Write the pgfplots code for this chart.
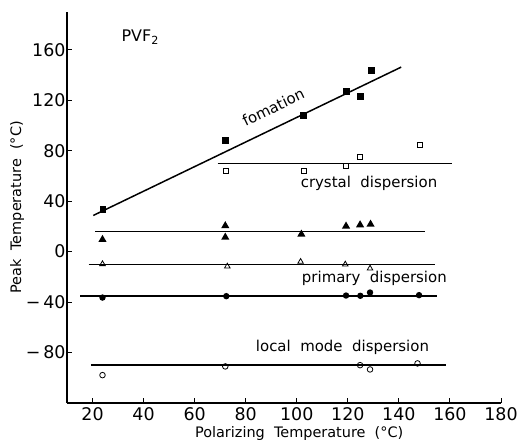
\documentclass[border=0pt]{standalone}
\usepackage{pgfplots}
\pgfplotsset{compat=1.18}
\usepackage{fontspec}
\setmainfont{DejaVu Sans}

\begin{document}
\begin{tikzpicture}
\path[use as bounding box] (-67bp,-42bp) rectangle (451bp,403bp);
\begin{axis}[
  at={(0,0)}, anchor=south west,
  scale only axis, width=434bp, height=391bp,
  xmin=10, xmax=180, ymin=-120, ymax=190,
  axis lines=left, axis line style={-, line width=1.3pt},
  xtick={20,40,...,180}, ytick={-80,-40,...,160},
  yticklabels={−\,80,−\,40,0,40,80,120,160},
  tick align=inside, major tick length=5bp,
  tick style={line width=1pt, black},
  /pgf/number format/assume math mode=true,
  tick label style={font=\fontsize{17.5}{17.5}\selectfont},
  yticklabel style={xshift=2bp},
  xticklabel style={yshift=-1bp},
  ylabel={Peak~~Temperature~~(°C)},
  xlabel={Polarizing~~Temperature~~(°C)},
  label style={font=\fontsize{14.5}{15}\selectfont},
  ylabel style={at={(axis description cs:-0.115,0.5)}, anchor=center},
  xlabel style={at={(axis description cs:0.535,0)}, anchor=center, yshift=-31bp},
  clip=false,
  every axis plot/.append style={line width=1.5pt},
]
% fitted lines for each process
\addplot[black, no markers] coordinates {(20.3,28.7) (140.9,146.3)};
\addplot[black, no markers] coordinates {(69,70) (161,70)};
\addplot[black, no markers] coordinates {(21,16) (150.4,16)};
\addplot[black, no markers] coordinates {(18.5,-10) (154,-10)};
\addplot[black, no markers] coordinates {(15.2,-35.3) (155.1,-35.3)};
\addplot[black, no markers] coordinates {(19.4,-90) (158.3,-90)};

% formation
\addplot[only marks, mark=square*, mark size=2.7bp, fill=black] coordinates {
 (24.1,33.2) (72.2,87.8) (102.8,107.7) (119.4,127.1) (124.9,122.9) (129.4,143.9)};
% crystal dispersion
\addplot[only marks, mark=square, mark size=2.5bp, line width=0.8pt, mark options={fill=white}] coordinates {
 (72.2,63.9) (102.8,63.9) (119.3,68.2) (124.9,75.1) (148.2,84.6)};
% filled triangles
\addplot[only marks, mark=triangle*, mark size=3.2bp, fill=black] coordinates {
 (23.9,9.6) (72,20.5) (72,11.4) (101.8,13.8) (119.3,20.2) (124.8,21.2) (128.9,21.7)};
% primary dispersion
\addplot[only marks, mark=triangle, mark size=3.2bp, line width=0.8pt, mark options={fill=white}] coordinates {
 (23.9,-9.8) (72.8,-11.7) (101.5,-8.0) (119,-10.1) (128.7,-13.3)};
% filled circles
\addplot[only marks, mark=*, mark size=2.4bp, fill=black] coordinates {
 (23.9,-36.4) (72.4,-35.3) (119.3,-34.8) (124.9,-35) (128.7,-32.4) (147.9,-34.5)};
% local mode dispersion
\addplot[only marks, mark=o, mark size=2.8bp, line width=0.8pt, mark options={fill=white}] coordinates {
 (23.9,-97.9) (72,-91) (124.8,-90) (128.7,-93.4) (147.3,-88.6)};

\node[font=\fontsize{16}{16}\selectfont] at (axis cs:38.7,170) {PVF\textsubscript{2}};
\node[font=\fontsize{15}{15}\selectfont, rotate=25.6] at (axis cs:90.8,114.6) {fomation};
\node[font=\fontsize{15}{15}\selectfont] at (axis cs:128.3,54.4) {crystal~~dispersion};
\node[font=\fontsize{15}{15}\selectfont] at (axis cs:130.4,-20.9) {primary~~dispersion};
\node[font=\fontsize{15}{15}\selectfont] at (axis cs:117.9,-76.2) {local~~mode~~dispersion};
\end{axis}
\end{tikzpicture}
\end{document}
